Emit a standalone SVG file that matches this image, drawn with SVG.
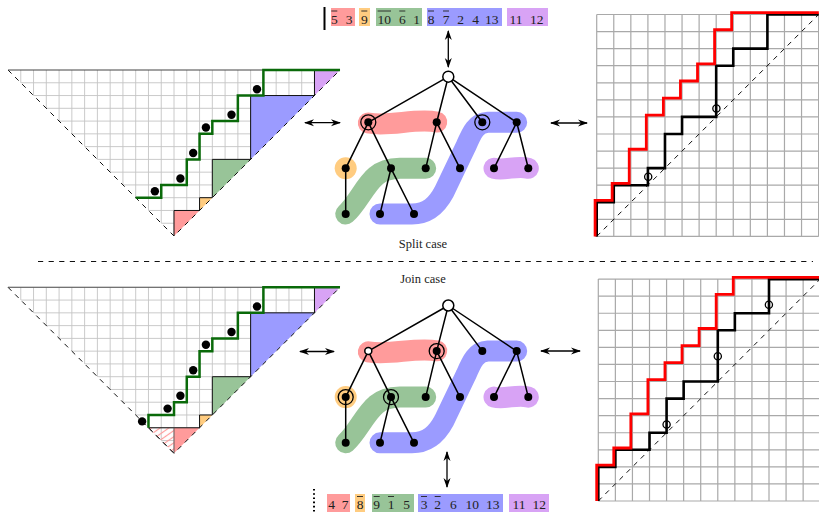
<svg xmlns="http://www.w3.org/2000/svg" xmlns:xlink="http://www.w3.org/1999/xlink" width="819" height="515" viewBox="0 0 819 515">
<style>
.lbl{font-family:"Liberation Serif","DejaVu Serif",serif;font-size:13.5px;fill:#222;text-anchor:middle}
.cap{font-family:"Liberation Serif","DejaVu Serif",serif;font-size:12.5px;fill:#222;text-anchor:middle}
.ov{stroke:#222;stroke-width:0.9}
.tg{stroke:#c4c4c4;stroke-width:0.9;fill:none}
.rg{stroke:#a9a9a9;stroke-width:1.2;fill:none}
.dash{stroke:#111;stroke-width:1;stroke-dasharray:5 5;fill:none}
.bd{stroke:#111;stroke-width:1;fill:none}
.gp{stroke:#0a6a0a;stroke-width:2.5;fill:none;stroke-linejoin:miter}
.dot{fill:#000}
.edge{stroke:#000;stroke-width:1.5;fill:none}
.ring{fill:none;stroke:#000;stroke-width:1.3}
.open{fill:#fff;stroke:#000;stroke-width:1.5}
.blob{fill:none;stroke-width:21;stroke-linecap:round;stroke-linejoin:round}
.arr{stroke:#000;stroke-width:1.3;fill:none;marker-start:url(#ah);marker-end:url(#ah)}
.cr{fill:#ff9b9b}.cy{fill:#ffcc80}.cg{fill:#98c498}.cb{fill:#9b9bff}.cp{fill:#d8a3f5}
.sr{stroke:#ff9b9b}.sy{stroke:#ffcc80}.sg{stroke:#98c498}.sb{stroke:#9b9bff}.sp{stroke:#d8a3f5}
</style>
<defs>
<marker id="ah" viewBox="0 0 10 8" refX="9" refY="4" markerWidth="10" markerHeight="8" markerUnits="userSpaceOnUse" orient="auto-start-reverse">
<path d="M0,0.5 L10,4 L0,7.5 L3,4 z" fill="#000"/>
</marker>
<clipPath id="triClip"><polygon points="0,0 332.02,0 166.01,166.01"/></clipPath>
<pattern id="hatch" patternUnits="userSpaceOnUse" width="5" height="5" patternTransform="rotate(-35)">
<line x1="0" y1="2.5" x2="5" y2="2.5" stroke="#ff9b9b" stroke-width="1.2"/>
</pattern>
<g id="tri">
<g clip-path="url(#triClip)">
<path class="tg" d="M12.77,0V166M25.54,0V166M38.31,0V166M51.08,0V166M63.85,0V166M76.62,0V166M89.39,0V166M102.16,0V166M114.93,0V166M127.7,0V166M140.47,0V166M153.24,0V166M166.01,0V166M178.78,0V166M191.55,0V166M204.32,0V166M217.09,0V166M229.86,0V166M242.63,0V166M255.4,0V166M268.17,0V166M280.94,0V166M293.71,0V166M306.48,0V166M319.25,0V166M0,12.77H332M0,25.54H332M0,38.31H332M0,51.08H332M0,63.85H332M0,76.62H332M0,89.39H332M0,102.16H332M0,114.93H332M0,127.7H332M0,140.47H332M0,153.24H332"/>
</g>
<polygon class="cr" points="166.01,140.47 191.55,140.47 166.01,166.01"/>
<polygon class="cy" points="191.55,127.7 204.32,127.7 191.55,140.47"/>
<polygon class="cg" points="204.32,89.39 242.63,89.39 204.32,127.7"/>
<polygon class="cb" points="242.63,25.54 306.48,25.54 242.63,89.39"/>
<polygon class="cp" points="306.48,0 332.02,0 306.48,25.54"/>
<path class="bd" d="M191.55,140.47V127.7H204.32V89.39H242.63V25.54H306.48V0"/>
<path class="dash" d="M0,0L166.01,166.01L332.02,0"/>
<path stroke="#444" stroke-width="1.1" d="M0,0H332.02"/>
</g>
<g id="rgrid">
<path class="rg" d="M0,0V221.91M17.07,0V221.91M34.14,0V221.91M51.21,0V221.91M68.28,0V221.91M85.35,0V221.91M102.42,0V221.91M119.49,0V221.91M136.56,0V221.91M153.63,0V221.91M170.7,0V221.91M187.77,0V221.91M204.84,0V221.91M221.91,0V221.91M0,0H221.91M0,17.07H221.91M0,34.14H221.91M0,51.21H221.91M0,68.28H221.91M0,85.35H221.91M0,102.42H221.91M0,119.49H221.91M0,136.56H221.91M0,153.63H221.91M0,170.7H221.91M0,187.77H221.91M0,204.84H221.91M0,221.91H221.91"/>
<path class="dash" d="M0,221.91L221.91,0"/>
<path fill="none" stroke="#000" stroke-width="2.6" d="M0,221.91V187.77H17.07V170.7H51.21V153.63H68.28V119.49H85.35V102.42H119.49V51.21H136.56V34.14H170.7V0H221.91"/>
<path fill="none" stroke="#ff0000" stroke-width="2.8" transform="translate(-1.6,-1.8)" d="M0,223.71V187.77H17.07V170.7H34.14V136.56H51.21V102.42H68.28V85.35H85.35V68.28H102.42V51.21H119.49V17.07H136.56V0H223.71"/>
</g>
<g id="treeBlobs">
<path class="blob sr" d="M368.3,123 C390,127 415,118 436.7,122"/>
<circle cx="345.7" cy="168.3" r="11" class="cy"/>
<path class="blob sg" d="M345.7,214 C357,204 365,185 376,176 C383,170 392,168.5 400,168.3 L425.7,168.3"/>
<path class="blob sb" d="M380,214 L412,214 C428,214 437,205 444,192 L466,146 C472,132 476,123 488,122.3 L516.7,122.3"/>
<path class="blob sp" d="M494,168.3 C505,171 517,165 528.3,168.3"/>
</g>
<g id="treeEdges">
<path class="edge" d="M448.3,76.7L368.3,122.3M448.3,76.7L436.7,122.3M448.3,76.7L482.3,122.3M448.3,76.7L516.7,122.3M368.3,122.3L345.7,168.3M368.3,122.3L391,168.3M436.7,122.3L425.7,168.3M436.7,122.3L460,168.3M516.7,122.3L494,168.3M516.7,122.3L528.3,168.3M345.7,168.3L345.7,214M391,168.3L380,214M391,168.3L414,214"/>
</g>
</defs>

<g id="leftTop">
<use xlink:href="#tri" x="8" y="70"/>
<g transform="translate(8,70)">
<path class="bd" d="M166.01,166.01V140.47H191.55"/>
<path class="gp" d="M127.7,127.7H153.24V114.93H178.78V89.39H191.55V63.85H204.32V51.08H229.86V25.54H255.4V0H332.02"/>
<circle class="dot" cx="146.86" cy="121.3" r="4.2"/>
<circle class="dot" cx="172.4" cy="108.5" r="4.2"/>
<circle class="dot" cx="185.2" cy="83" r="4.2"/>
<circle class="dot" cx="197.9" cy="57.5" r="4.2"/>
<circle class="dot" cx="223.5" cy="44.7" r="4.2"/>
<circle class="dot" cx="249" cy="19.2" r="4.2"/>
</g>
</g>

<g id="leftBottom">
<use xlink:href="#tri" x="8" y="287.3"/>
<g transform="translate(8,287.3)">
<polygon points="140.47,140.47 166.01,140.47 166.01,166.01" fill="url(#hatch)"/>
<path class="bd" d="M140.47,140.47H191.55"/>
<path stroke="#555" stroke-width="0.9" d="M166.01,140.47V166.01"/>
<path class="dash" d="M140.47,140.47L166.01,166.01"/>
<path class="gp" d="M140.47,140.47V127.7H166.01V114.93H178.78V89.39H191.55V63.85H204.32V51.08H229.86V25.54H255.4V0H332.02"/>
<circle class="dot" cx="134.1" cy="134.1" r="4.2"/>
<circle class="dot" cx="159.6" cy="121.3" r="4.2"/>
<circle class="dot" cx="172.4" cy="108.5" r="4.2"/>
<circle class="dot" cx="185.2" cy="83" r="4.2"/>
<circle class="dot" cx="197.9" cy="57.5" r="4.2"/>
<circle class="dot" cx="223.5" cy="44.7" r="4.2"/>
<circle class="dot" cx="249" cy="19.2" r="4.2"/>
</g>
</g>

<g id="rightTop">
<use xlink:href="#rgrid" x="596.7" y="14.5"/>
<circle class="ring" cx="648.2" cy="176.7" r="3.6"/>
<circle class="ring" cx="716.4" cy="108.4" r="3.6"/>
</g>
<g id="rightBottom">
<use xlink:href="#rgrid" x="598.3" y="279.1"/>
<circle class="ring" cx="666.6" cy="424.5" r="3.6"/>
<circle class="ring" cx="717.8" cy="356.2" r="3.6"/>
<circle class="ring" cx="768.9" cy="304.7" r="3.6"/>
</g>

<g id="treeTop">
<use xlink:href="#treeBlobs"/>
<use xlink:href="#treeEdges"/>
<g id="t-root"><circle class="open" cx="448.3" cy="76.7" r="5.5"/></g>
<g id="t-a"><circle class="dot" cx="368.3" cy="122.3" r="4"/><circle class="ring" cx="368.3" cy="122.3" r="7.5"/></g>
<g id="t-b"><circle class="dot" cx="436.7" cy="122.3" r="4"/></g>
<g id="t-c"><circle class="dot" cx="482.3" cy="122.3" r="4"/><circle class="ring" cx="482.3" cy="122.3" r="7.5"/></g>
<g id="t-d"><circle class="dot" cx="516.7" cy="122.3" r="4"/></g>
<g id="t-e"><circle class="dot" cx="345.7" cy="168.3" r="4"/></g>
<g id="t-f"><circle class="dot" cx="391" cy="168.3" r="4"/></g>
<g id="t-g"><circle class="dot" cx="425.7" cy="168.3" r="4"/></g>
<g id="t-h"><circle class="dot" cx="460" cy="168.3" r="4"/></g>
<g id="t-i"><circle class="dot" cx="494" cy="168.3" r="4"/></g>
<g id="t-j"><circle class="dot" cx="528.3" cy="168.3" r="4"/></g>
<g id="t-k"><circle class="dot" cx="345.7" cy="214" r="4"/></g>
<g id="t-l"><circle class="dot" cx="380" cy="214" r="4"/></g>
<g id="t-m"><circle class="dot" cx="414" cy="214" r="4"/></g>
</g>

<g id="treeBottom">
<use xlink:href="#treeBlobs" y="228.8"/>
<use xlink:href="#treeEdges" y="228.8"/>
<g transform="translate(0,228.8)">
<g id="b-root"><circle class="open" cx="448.3" cy="76.7" r="5.5"/></g>
<g id="b-a"><circle class="open" cx="368.3" cy="122.3" r="3.5" stroke-width="1.2"/></g>
<g id="b-b"><circle class="dot" cx="436.7" cy="122.3" r="4"/><circle class="ring" cx="436.7" cy="122.3" r="7.5"/></g>
<g id="b-c"><circle class="dot" cx="482.3" cy="122.3" r="4"/></g>
<g id="b-d"><circle class="dot" cx="516.7" cy="122.3" r="4"/></g>
<g id="b-e"><circle class="dot" cx="345.7" cy="168.3" r="4"/><circle class="ring" cx="345.7" cy="168.3" r="7.5"/></g>
<g id="b-f"><circle class="dot" cx="391" cy="168.3" r="4"/><circle class="ring" cx="391" cy="168.3" r="7.5"/></g>
<g id="b-g"><circle class="dot" cx="425.7" cy="168.3" r="4"/></g>
<g id="b-h"><circle class="dot" cx="460" cy="168.3" r="4"/></g>
<g id="b-i"><circle class="dot" cx="494" cy="168.3" r="4"/></g>
<g id="b-j"><circle class="dot" cx="528.3" cy="168.3" r="4"/></g>
<g id="b-k"><circle class="dot" cx="345.7" cy="214" r="4"/></g>
<g id="b-l"><circle class="dot" cx="380" cy="214" r="4"/></g>
<g id="b-m"><circle class="dot" cx="414" cy="214" r="4"/></g>
</g>
</g>

<g id="arrows">
<path class="arr" d="M448.3,31V67"/>
<path class="arr" d="M305,122.7H340"/>
<path class="arr" d="M551,123H587"/>
<path class="arr" d="M300,351.5H334"/>
<path class="arr" d="M541,351H580"/>
<path class="arr" d="M447,452V487"/>
</g>

<g id="labelTop">
<path stroke="#000" stroke-width="2" d="M324.5,7V30"/>
<rect class="cr" x="331" y="8" width="24" height="18"/>
<rect class="cy" x="359" y="8" width="11" height="18"/>
<rect class="cg" x="376" y="8" width="46" height="18"/>
<rect class="cb" x="427" y="8" width="75" height="18"/>
<rect class="cp" x="507" y="8" width="41" height="18"/>
<text class="lbl" x="334.3" y="24">5</text><text class="lbl" x="349" y="24">3</text>
<text class="lbl" x="364.3" y="24">9</text>
<text class="lbl" x="384.3" y="24">10</text><text class="lbl" x="402.3" y="24">6</text><text class="lbl" x="416.7" y="24">1</text>
<text class="lbl" x="431" y="24">8</text><text class="lbl" x="446" y="24">7</text><text class="lbl" x="460.7" y="24">2</text><text class="lbl" x="475.7" y="24">4</text><text class="lbl" x="491.7" y="24">13</text>
<text class="lbl" x="516" y="24">11</text><text class="lbl" x="536.7" y="24">12</text>
<path class="ov" d="M331.3,11H337.3M361.3,11H367.3M377.6,11H391M399.3,11H405.3M428,11H434M443,11H449"/>
</g>

<g id="labelBottom">
<path stroke="#000" stroke-width="2" stroke-dasharray="1.6 2.6" d="M314,489V514"/>
<rect class="cr" x="327" y="494" width="23" height="18"/>
<rect class="cy" x="355" y="494" width="10" height="18"/>
<rect class="cg" x="372" y="494" width="42" height="18"/>
<rect class="cb" x="418" y="494" width="85" height="18"/>
<rect class="cp" x="509" y="494" width="40" height="18"/>
<text class="lbl" x="331.7" y="509">4</text><text class="lbl" x="345" y="509">7</text>
<text class="lbl" x="360" y="509">8</text>
<text class="lbl" x="376.7" y="509">9</text><text class="lbl" x="391" y="509">1</text><text class="lbl" x="406.7" y="509">5</text>
<text class="lbl" x="424" y="509">3</text><text class="lbl" x="437.7" y="509">2</text><text class="lbl" x="453.3" y="509">6</text><text class="lbl" x="472.3" y="509">10</text><text class="lbl" x="492.7" y="509">13</text>
<text class="lbl" x="519" y="509">11</text><text class="lbl" x="539.3" y="509">12</text>
<path class="ov" d="M357,496.5H363M373.7,496.5H379.7M388,496.5H394M421,496.5H427M434.7,496.5H440.7"/>
</g>

<g id="separator">
<text class="cap" x="423" y="248">Split case</text>
<path stroke="#111" stroke-width="1" stroke-dasharray="5.2 5.4" d="M38,261.5H813"/>
<text class="cap" x="423" y="283">Join case</text>
</g>
</svg>
